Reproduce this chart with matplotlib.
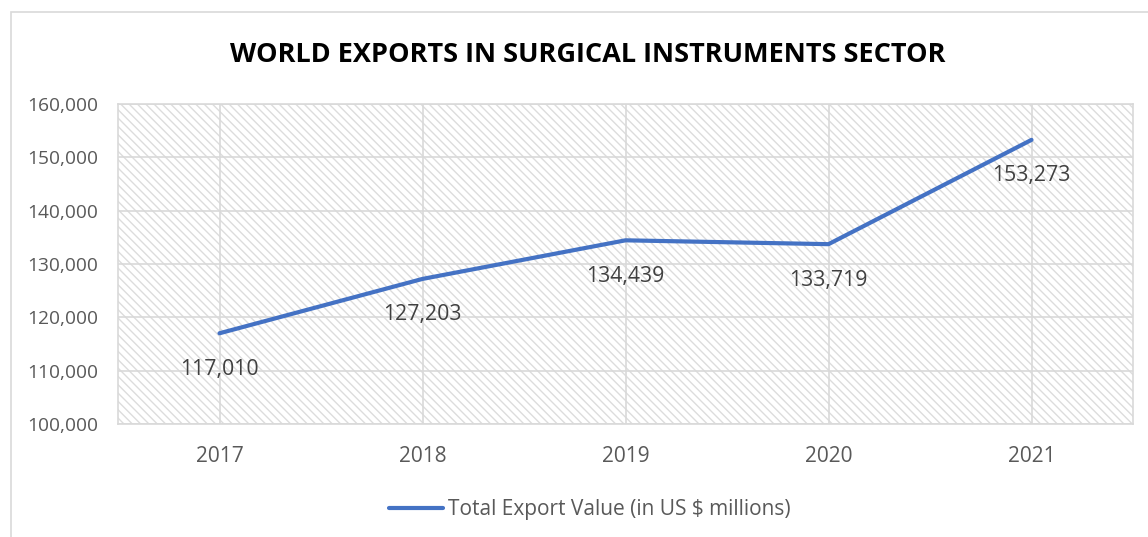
import matplotlib.pyplot as plt
from matplotlib.patches import Rectangle
from matplotlib.ticker import FuncFormatter

years = ['2017', '2018', '2019', '2020', '2021']
export_value = [117010, 127203, 134439, 133719, 153273]
y_ticks = [100000, 110000, 120000, 130000, 140000, 150000, 160000]

title = 'WORLD EXPORTS IN SURGICAL INSTRUMENTS SECTOR'
series_name = 'Total Export Value (in US $ millions)'

plt.rcParams['font.family'] = ['Open Sans', 'DejaVu Sans']
plt.rcParams['hatch.linewidth'] = 1.0

W, H = 1148, 537
fig = plt.figure(figsize=(W / 100, H / 100), dpi=100)

# chart border (Excel style)
fig.patches.append(Rectangle((11 / W, -0.1), 1.2, (H - 12) / H + 0.1,
                             transform=fig.transFigure, fill=False,
                             edgecolor='#d9d9d9', linewidth=1.2))

ax = fig.add_axes([118 / W, (H - 424) / H, (1133 - 118) / W, (424 - 104) / H])
# hatched plot area
ax.add_patch(Rectangle((0, 0), 1, 1, transform=ax.transAxes,
                       facecolor='white', edgecolor='#dcdcdc', linewidth=0,
                       hatch='\\\\\\\\', zorder=0))

x = list(range(len(years)))
ax.plot(x, export_value, color='#4472c4', linewidth=3, solid_capstyle='round',
        label=series_name, zorder=3)

for xi, v in zip(x, export_value):
    ax.annotate('{:,}'.format(v), (xi, v), xytext=(0, -36),
                textcoords='offset pixels', ha='center', va='center',
                fontsize=15.3, color='#404040', zorder=4)

ax.set_xlim(-0.5, len(years) - 0.5)
ax.set_ylim(y_ticks[0], y_ticks[-1])
ax.set_xticks(x)
ax.set_xticklabels(years)
ax.set_yticks(y_ticks)
ax.yaxis.set_major_formatter(FuncFormatter(lambda v, p: '{:,.0f}'.format(v)))
ax.grid(True, color='#d9d9d9', linewidth=1.2, zorder=1)
ax.set_axisbelow(True)
ax.tick_params(length=0, labelcolor='#595959')
ax.tick_params(axis='y', pad=14.5, labelsize=13.8)
ax.tick_params(axis='x', pad=16, labelsize=15)
for s in ax.spines.values():
    s.set_color('#d9d9d9')
    s.set_linewidth(1.2)

fig.text(588 / W, 1 - 55 / H, title, ha='center', va='center',
         fontsize=19.5, fontweight='bold', color='black')

leg = fig.legend(loc='center', bbox_to_anchor=(590 / W, 1 - 510 / H),
                 frameon=False, fontsize=15, handlelength=2.6,
                 handletextpad=0.25, labelcolor='#595959')

fig.savefig('out.png', dpi=100)
